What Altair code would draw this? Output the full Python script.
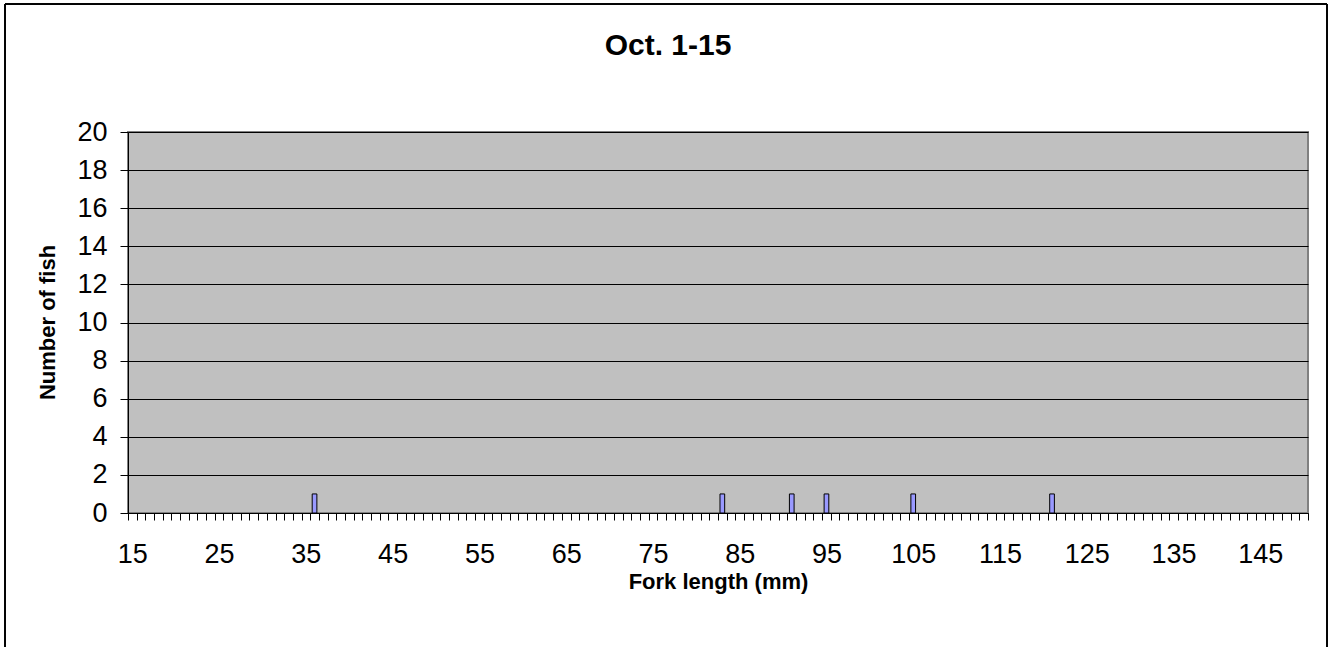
import altair as alt
import pandas as pd

# Fork-length histogram, one category per millimetre
fork_length = [36, 83, 91, 95, 105, 121]
fish_count = [1, 1, 1, 1, 1, 1]
length_min, length_max = 15, 150
label_values = list(range(15, 150, 10))
y_ticks = list(range(0, 21, 2))

# tick marks sit on the category boundaries
edge_values = [v - 0.5 for v in range(length_min, length_max + 2)]
x_axis_values = sorted(edge_values + label_values)

df = pd.DataFrame({"length": fork_length, "count": fish_count})

FONT = "Liberation Sans"
BAR_HALF = 0.27  # half of the bar width, in category units

x_scale = alt.Scale(domain=[length_min - 0.5, length_max + 0.5], nice=False, zero=False)
y_scale = alt.Scale(domain=[0, 20], nice=False)

x_axis = alt.Axis(
    orient="bottom",
    values=x_axis_values,
    labelExpr="datum.value % 1 == 0 ? format(datum.value, 'd') : ''",
    tickOpacity={"condition": {"test": "datum.value % 1 == 0", "value": 0}, "value": 1},
    tickSize=7,
    tickColor="black",
    domainColor="black",
    labelFont=FONT,
    labelFontSize=27,
    labelColor="black",
    labelPadding=21,
    labelOverlap=False,
    labelBound=False,
    labelFlush=False,
    grid=False,
    title="Fork length (mm)",
    titleFont=FONT,
    titleFontSize=22,
    titleFontWeight="bold",
    titleColor="black",
    titleY=68,
    titleBaseline="middle",
)

y_axis = alt.Axis(
    values=y_ticks,
    tickSize=8,
    tickColor="black",
    domainColor="black",
    labelFont=FONT,
    labelFontSize=27,
    labelColor="black",
    labelPadding=13,
    grid=True,
    gridColor="black",
    gridWidth=1,
    title="Number of fish",
    titleFont=FONT,
    titleFontSize=22,
    titleFontWeight="bold",
    titleColor="black",
    titleX=-81,
    titleY=190,
    titleBaseline="middle",
)

bars = (
    alt.Chart(df)
    .transform_calculate(
        lo=f"datum.length - {BAR_HALF}",
        hi=f"datum.length + {BAR_HALF}",
        base="0",
    )
    .mark_rect(fill="#9999FF", stroke="black", strokeWidth=1)
    .encode(
        x=alt.X("lo:Q", scale=x_scale, axis=x_axis),
        x2="hi:Q",
        y=alt.Y("count:Q", scale=y_scale, axis=y_axis),
        y2="base:Q",
    )
)

# outer chart-area frame
frame = (
    alt.Chart(df)
    .mark_rect(fillOpacity=0, stroke="black", strokeWidth=1)
    .encode(
        x=alt.value(-123),
        x2=alt.value(1199),
        y=alt.value(-128),
        y2=alt.value(700),
    )
)

chart = (
    alt.layer(frame, bars)
    .properties(
        width=1180,
        height=381,
        title=alt.TitleParams(
            "Oct. 1-15",
            font=FONT,
            fontSize=30,
            fontWeight="bold",
            color="black",
            anchor="middle",
            frame="group",
            dx=-50,
            offset=-81,
            baseline="alphabetic",
        ),
        autosize=alt.AutoSizeParams(type="none"),
        padding={"left": 128, "top": 132, "right": 22, "bottom": 134},
        background="white",
    )
    .configure_view(fill="#C0C0C0", stroke="#808080", strokeWidth=2)
)

chart.save("out.html", embed_options={"renderer": "svg", "actions": False})
